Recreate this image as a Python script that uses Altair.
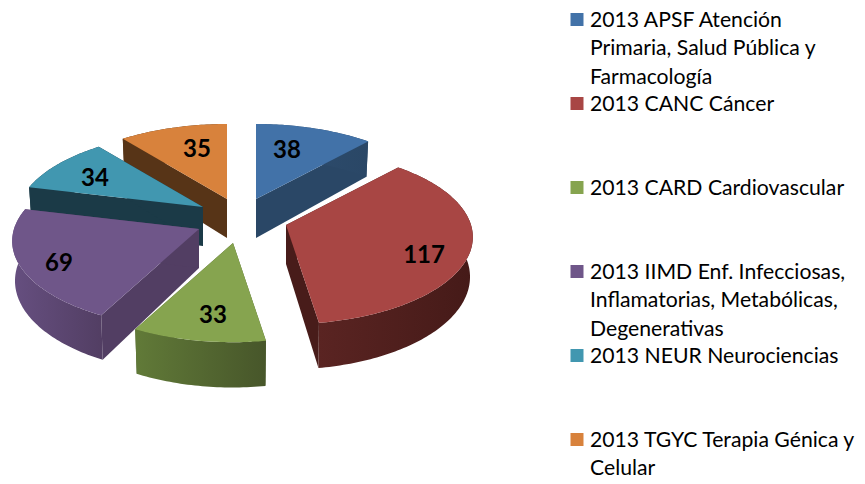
import math
import altair as alt
import pandas as pd

names = [
    ["2013 APSF Atención", "Primaria, Salud Pública y", "Farmacología"],
    ["2013 CANC Cáncer"],
    ["2013 CARD Cardiovascular"],
    ["2013 IIMD Enf. Infecciosas,", "Inflamatorias, Metabólicas,", "Degenerativas"],
    ["2013 NEUR Neurociencias"],
    ["2013 TGYC Terapia Génica y", "Celular"],
]
values = [38, 117, 33, 69, 34, 35]
top_colors = ["#4272A8", "#A84644", "#86A44F", "#6F5689", "#4197B0", "#D8823C"]
wall_colors = ["#2A4766", "#481C1A", "#4C5D2C", "#523E63", "#1B3A47", "#573417"]
arc_wall_stops = [
    ("#2F4E70", "#2A4766"),
    ("#5A2422", "#451A18"),
    ("#617A38", "#47562A"),
    ("#664F80", "#523E63"),
    ("#1B3A47", "#1B3A47"),
    ("#573417", "#573417"),
]

# layout of the exploded, tilted pie (page pixels)
apex_x = [256, 286, 233, 199, 203, 227]
apex_y = [199, 225, 243, 229, 207, 199]
label_x = [287, 424, 213, 59, 95, 197]
label_y = [151, 256, 316, 264, 179, 150]
draw_order = [5, 0, 4, 3, 1, 2]
RX, RY, PERSP, DEPTH, FOOT = 185, 85.4, 0.139, 39, 0.985
W, H = 849, 468

x_scale = alt.Scale(domain=[8, 8 + W], range=[0, W], nice=False, zero=False)
y_scale = alt.Scale(domain=[8, 8 + H], range=[0, H], nice=False, zero=False)


def project(i, deg, lift=0.0):
    t = math.radians(deg)
    X, Y = math.sin(t), math.cos(t)
    s = 1 / (1 + PERSP * Y)
    shrink = FOOT if lift else 1.0
    return apex_x[i] + X * s * RX * shrink, apex_y[i] - Y * s * RY + lift * DEPTH * s


def polygon(points, fill):
    rows = [{"px": p[0], "py": p[1], "k": k} for k, p in enumerate(points + points[:1])]
    return (
        alt.Chart(pd.DataFrame(rows))
        .mark_line(fill=fill, strokeWidth=0, interpolate="linear")
        .encode(
            x=alt.X("px:Q", scale=x_scale, axis=None),
            y=alt.Y("py:Q", scale=y_scale, axis=None),
            order=alt.Order("k:Q"),
        )
    )


total = sum(values)
starts = [sum(values[:i]) / total * 360 for i in range(len(values))]
ends = [sum(values[: i + 1]) / total * 360 for i in range(len(values))]

layers = []
for i in draw_order:
    a0, a1 = starts[i], ends[i]
    n = max(2, int(a1 - a0))
    angles = [a0 + (a1 - a0) * j / n for j in range(n + 1)]
    ax, ay = apex_x[i], apex_y[i]
    for edge in (a0, a1):
        layers.append(polygon(
            [(ax, ay), project(i, edge), project(i, edge, 1), (ax, ay + DEPTH)],
            wall_colors[i],
        ))
    grad = alt.LinearGradient(
        gradient="linear", x1=0, x2=1, y1=0, y2=0,
        stops=[alt.GradientStop(color=arc_wall_stops[i][0], offset=0),
               alt.GradientStop(color=arc_wall_stops[i][1], offset=1)],
    )
    layers.append(polygon(
        [project(i, a) for a in angles] + [project(i, a, 1) for a in reversed(angles)],
        grad,
    ))
    layers.append(polygon([(ax, ay)] + [project(i, a) for a in angles], top_colors[i]))

value_labels = pd.DataFrame({"lx": label_x, "ly": label_y, "v": values})
layers.append(
    alt.Chart(value_labels)
    .mark_text(font="Lato", fontWeight="bold", fontSize=24, color="#000000", align="center", baseline="middle")
    .encode(
        x=alt.X("lx:Q", scale=x_scale, axis=None),
        y=alt.Y("ly:Q", scale=y_scale, axis=None),
        text="v:N",
    )
)

legend_rows, legend_lines = [], []
for i, lines in enumerate(names):
    row_y = 20.5 + 84 * i
    legend_rows.append({"sx": 577, "sy": row_y - 1, "c": top_colors[i]})
    for j, line in enumerate(lines):
        legend_lines.append({"tx": 590, "ty": row_y + 28.5 * j, "t": line})

layers.append(
    alt.Chart(pd.DataFrame(legend_rows))
    .mark_square(size=169, opacity=1, strokeWidth=0)
    .encode(
        x=alt.X("sx:Q", scale=x_scale, axis=None),
        y=alt.Y("sy:Q", scale=y_scale, axis=None),
        fill=alt.Fill("c:N", scale=None, legend=None),
    )
)
layers.append(
    alt.Chart(pd.DataFrame(legend_lines))
    .mark_text(font="Lato", fontSize=21.2, color="#000000", align="left", baseline="middle")
    .encode(
        x=alt.X("tx:Q", scale=x_scale, axis=None),
        y=alt.Y("ty:Q", scale=y_scale, axis=None),
        text="t:N",
    )
)

chart = (
    alt.layer(*layers)
    .properties(width=W, height=H, padding=0, autosize=alt.AutoSizeParams(type="none"), background="#ffffff")
    .configure_view(stroke=None)
)
chart.save("out.html", embed_options={"renderer": "svg", "actions": False})
